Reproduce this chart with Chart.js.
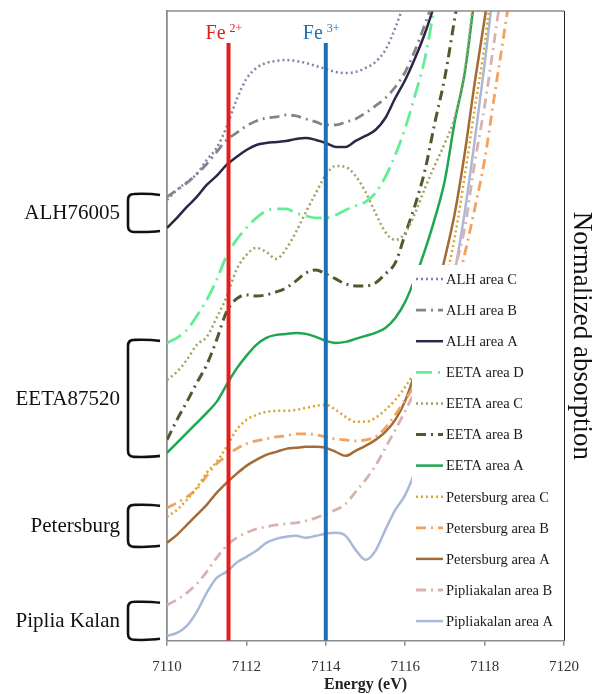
<!DOCTYPE html>
<html>
<head>
<meta charset="utf-8">
<script src="https://cdn.jsdelivr.net/npm/chart.js@4.4.1/dist/chart.umd.min.js"></script>
<style>
  html,body{margin:0;padding:0;background:#fff;}
  #wrap{width:592px;height:694px;}
</style>
</head>
<body>
<div id="wrap"><canvas id="chart" width="592" height="694"></canvas></div>
<script>
// XANES pre-edge spectra (arbitrary normalized units)
const energy = [7110, 7110.25, 7110.5, 7110.75, 7111, 7111.25, 7111.5, 7111.75,
  7112, 7112.25, 7112.5, 7112.75, 7113, 7113.25, 7113.5, 7113.75,
  7114, 7114.25, 7114.5, 7114.75, 7115, 7115.25, 7115.5, 7115.75,
  7116, 7116.25, 7116.5, 7116.75, 7117, 7117.25, 7117.5, 7117.75,
  7118, 7118.25, 7118.5, 7118.75];

const alhC  = [4.41,4.51,4.59,4.67,4.81,4.93,5.14,5.41,5.62,5.73,5.78,5.80,5.81,5.80,5.78,5.75,5.72,5.69,5.68,5.69,5.73,5.79,5.91,6.13,6.41];
const alhB  = [4.44,4.51,4.58,4.67,4.77,4.89,5.01,5.08,5.15,5.20,5.23,5.24,5.26,5.25,5.22,5.19,5.16,5.16,5.19,5.22,5.28,5.35,5.43,5.54,5.69,5.91,6.17,6.46];
const alhA  = [4.13,4.23,4.34,4.44,4.56,4.65,4.76,4.84,4.91,4.96,4.98,4.99,5.00,5.02,5.03,5.01,4.98,4.94,4.94,5.00,5.05,5.11,5.23,5.43,5.61,5.83,6.08,6.38,6.71];
const eetaD = [2.98,3.03,3.11,3.25,3.41,3.61,3.85,4.01,4.13,4.23,4.30,4.32,4.32,4.28,4.25,4.23,4.23,4.26,4.31,4.35,4.39,4.48,4.64,4.86,5.13,5.46,5.83,6.36,6.80];
const eetaC = [2.61,2.69,2.81,2.96,3.04,3.23,3.44,3.71,3.86,3.93,3.89,3.82,3.92,4.09,4.29,4.48,4.66,4.75,4.74,4.65,4.49,4.28,4.09,4.01,4.08,4.28,4.53,4.76,4.98,5.24,5.71,6.51];
const eetaB = [2.01,2.21,2.39,2.58,2.76,3.01,3.29,3.42,3.46,3.45,3.46,3.49,3.53,3.60,3.68,3.71,3.67,3.62,3.57,3.55,3.55,3.58,3.67,3.78,4.07,4.36,4.71,5.19,5.64,6.23,6.81];
const eetaA = [1.88,1.98,2.08,2.18,2.28,2.39,2.56,2.72,2.85,2.96,3.03,3.06,3.07,3.08,3.07,3.04,3.00,2.98,2.99,3.02,3.05,3.08,3.13,3.23,3.39,3.63,3.91,4.23,4.61,5.20,5.68,6.44];
const petC  = [1.24,1.31,1.41,1.53,1.68,1.79,1.94,2.11,2.21,2.26,2.29,2.30,2.30,2.31,2.33,2.35,2.36,2.31,2.24,2.19,2.19,2.23,2.31,2.41,2.54,2.71,3.01,3.31,3.59,4.04,4.65,5.32,5.96,6.81];
const petB  = [1.33,1.38,1.44,1.52,1.65,1.77,1.85,1.92,1.97,2.00,2.02,2.04,2.05,2.07,2.07,2.06,2.04,2.02,2.01,2.00,2.01,2.04,2.13,2.26,2.41,2.56,2.73,2.93,3.16,3.46,3.87,4.32,4.81,5.46,6.10,6.76];
const petA  = [0.98,1.06,1.16,1.26,1.36,1.48,1.58,1.67,1.75,1.81,1.86,1.89,1.92,1.93,1.94,1.94,1.93,1.89,1.85,1.90,1.95,2.01,2.09,2.21,2.40,2.69,3.06,3.43,3.83,4.28,4.88,5.58,6.22,6.91];
const pipB  = [0.36,0.41,0.48,0.57,0.69,0.83,0.95,1.03,1.08,1.12,1.14,1.16,1.17,1.18,1.20,1.23,1.27,1.31,1.37,1.49,1.61,1.75,1.93,2.11,2.30,2.51,2.83,3.13,3.43,3.73,4.13,4.78,5.35,6.02,6.71];
const pipA  = [0.05,0.08,0.15,0.29,0.48,0.63,0.69,0.78,0.84,0.90,0.98,1.02,1.04,1.05,1.03,1.05,1.07,1.08,1.05,0.91,0.81,0.90,1.11,1.31,1.46,1.71,2.16,2.66,3.18,3.69,4.29,5.00,5.77,6.61];

const seriesNames = ['ALH area C','ALH area B','ALH area A','EETA area D','EETA area C','EETA area B','EETA area A',
  'Petersburg area C','Petersburg area B','Petersburg area A','Pipliakalan area B','Pipliakalan area A'];
const seriesData = [alhC, alhB, alhA, eetaD, eetaC, eetaB, eetaA, petC, petB, petA, pipB, pipA];

// Fe2+ / Fe3+ pre-edge reference energies
const feEnergy = [7111.55, 7114.0];
const feCharge = ['2+', '3+'];
const feTop = 5.98;

// meteorite groups -> indices into seriesNames
const groupNames = ['ALH76005', 'EETA87520', 'Petersburg', 'Piplia Kalan'];
const groupMembers = [[0,1,2], [3,4,5,6], [7,8,9], [10,11]];

const xTicks = [7110, 7112, 7114, 7116, 7118, 7120];

// styles
const DOT = [2, 3], DASHDOT = [10, 5, 2, 5], LONGDASHDOT = [16, 6, 2, 6];
const styles = [
  {c:'#8282ac', d:DOT, w:2.5},
  {c:'#858585', d:DASHDOT, w:2.8},
  {c:'#2e2645', d:[], w:2.5},
  {c:'#62ee96', d:LONGDASHDOT, w:2.8},
  {c:'#a59f62', d:DOT, w:2.5},
  {c:'#4d5a2e', d:DASHDOT, w:3},
  {c:'#1fa653', d:[], w:2.5},
  {c:'#d9a62a', d:DOT, w:2.5},
  {c:'#f2a25c', d:DASHDOT, w:2.8},
  {c:'#a36b36', d:[], w:2.5},
  {c:'#d9b2b0', d:DASHDOT, w:2.8},
  {c:'#a9b9d7', d:[], w:2.5}
];
const feColors = ['#e01f1c', '#1e70b6'];
const SERIF = "'Liberation Serif', 'Times New Roman', serif";

const datasets = [];
feEnergy.forEach((e, i) => {
  datasets.push({
    label: 'Fe ' + feCharge[i],
    data: [{x: e, y: 0}, {x: e, y: feTop}],
    borderColor: feColors[i], borderWidth: 4, pointRadius: 0
  });
});
seriesData.forEach((arr, i) => {
  datasets.push({
    label: seriesNames[i],
    data: arr.map((v, k) => ({x: energy[k], y: v})),
    borderColor: styles[i].c, borderDash: styles[i].d, borderWidth: styles[i].w,
    pointRadius: 0, fill: false, cubicInterpolationMode: 'monotone'
  });
});

// legend drawn over the curves, on a white box
const boxLegend = {
  id: 'boxLegend',
  afterDatasetsDraw(chart) {
    const ctx = chart.ctx;
    ctx.save();
    ctx.fillStyle = '#fff';
    ctx.fillRect(412, 265, chart.chartArea.right - 413, 369);
    ctx.font = '14.5px ' + SERIF;
    ctx.textBaseline = 'middle';
    ctx.fillStyle = '#1a1a1a';
    seriesNames.forEach((name, i) => {
      const y = 279 + i * 31.1;
      ctx.strokeStyle = styles[i].c;
      ctx.lineWidth = styles[i].w;
      ctx.setLineDash(styles[i].d);
      ctx.beginPath();
      ctx.moveTo(416, y);
      ctx.lineTo(443, y);
      ctx.stroke();
      ctx.setLineDash([]);
      ctx.fillText(name, 446, y + 1);
    });
    ctx.restore();
  }
};

// frame top/right, Fe labels, y title, group brackets
const decor = {
  id: 'decor',
  afterDraw(chart) {
    const ctx = chart.ctx;
    const {left, right, top, bottom} = chart.chartArea;
    const xs = chart.scales.x, ys = chart.scales.y;
    ctx.save();
    ctx.strokeStyle = '#8c8c8c';
    ctx.lineWidth = 1.5;
    ctx.beginPath();
    ctx.moveTo(left, top);
    ctx.lineTo(right, top);
    ctx.stroke();
    ctx.strokeStyle = '#222';
    ctx.lineWidth = 1;
    ctx.beginPath();
    ctx.moveTo(right + 0.5, top);
    ctx.lineTo(right + 0.5, bottom);
    ctx.stroke();

    ctx.save();
    ctx.translate(581, (top + bottom) / 2 + 10);
    ctx.rotate(Math.PI / 2);
    ctx.fillStyle = '#111';
    ctx.font = '27px ' + SERIF;
    ctx.textAlign = 'center';
    ctx.textBaseline = 'middle';
    ctx.fillText('Normalized absorption', 0, 0);
    ctx.restore();

    feEnergy.forEach((e, i) => {
      const x = xs.getPixelForValue(e);
      ctx.fillStyle = feColors[i];
      ctx.font = '20px ' + SERIF;
      ctx.textAlign = 'right';
      ctx.textBaseline = 'alphabetic';
      ctx.fillText('Fe', x - 3, 39);
      ctx.font = '12px ' + SERIF;
      ctx.textAlign = 'left';
      ctx.fillText(feCharge[i], x + 1, 32);
    });

    ctx.strokeStyle = '#111';
    ctx.lineWidth = 2.6;
    ctx.fillStyle = '#111';
    ctx.font = '21px ' + SERIF;
    ctx.textAlign = 'right';
    ctx.textBaseline = 'middle';
    groupNames.forEach((g, i) => {
      const px = groupMembers[i].map(k => ys.getPixelForValue(seriesData[k][0]));
      const y0 = Math.min(...px) - 3, y1 = Math.max(...px) + 4;
      const bx = 128, ex = 160, r = 6;
      ctx.beginPath();
      ctx.moveTo(ex, y0 + 1);
      ctx.quadraticCurveTo(ex - 10, y0 - 0.5, bx + r, y0);
      ctx.quadraticCurveTo(bx, y0, bx, y0 + r);
      ctx.lineTo(bx, y1 - r);
      ctx.quadraticCurveTo(bx, y1, bx + r, y1);
      ctx.quadraticCurveTo(ex - 10, y1 + 0.5, ex, y1 - 1);
      ctx.stroke();
      ctx.fillText(g, 120, (y0 + y1) / 2 + 1);
    });
    ctx.restore();
  }
};

new Chart(document.getElementById('chart'), {
  type: 'line',
  data: { datasets },
  plugins: [boxLegend, decor],
  options: {
    responsive: false,
    animation: false,
    devicePixelRatio: 1,
    layout: { padding: { left: 167, top: 11, right: 28, bottom: 0 } },
    plugins: { legend: { display: false }, tooltip: { enabled: false } },
    scales: {
      x: {
        type: 'linear', min: 7110, max: 7120,
        afterBuildTicks: s => { s.ticks = xTicks.map(v => ({value: v})); },
        ticks: { color: '#333', font: { family: SERIF, size: 15 }, padding: 12, callback: v => String(v), maxRotation: 0 },
        grid: { drawOnChartArea: false, tickLength: 5, color: '#8c8c8c', lineWidth: 1.5 },
        border: { color: '#8c8c8c', width: 1.5 },
        title: { display: true, text: 'Energy (eV)', color: '#222', font: { family: SERIF, size: 16, weight: 'bold' }, padding: { top: -13, bottom: 0 } }
      },
      y: {
        min: 0, max: 6.3,
        ticks: { display: false },
        grid: { display: false, drawTicks: false },
        border: { color: '#8c8c8c', width: 1.8 }
      }
    }
  }
});
</script>
</body>
</html>
